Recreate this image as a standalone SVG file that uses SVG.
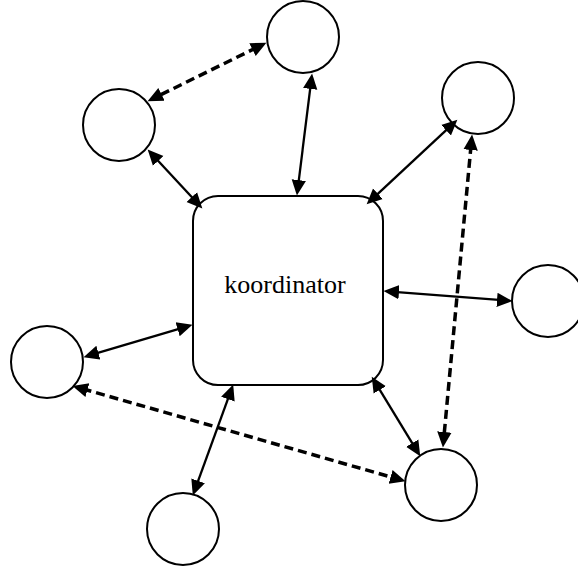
<svg xmlns="http://www.w3.org/2000/svg" width="578" height="574" viewBox="0 0 578 574">
  <style>
    .node { fill: #fff; stroke: #000; stroke-width: 2; }
    .label { font-family: "Liberation Serif", "Times New Roman", serif; font-size: 26px; fill: #000; }
    .link { fill: none; stroke: #000; stroke-width: 2.3; marker-start: url(#head); marker-end: url(#head); }
    .link.dashed { stroke-width: 3.5; stroke-dasharray: 9 5; }
  </style>
  <defs>
    <marker id="head" markerUnits="userSpaceOnUse" markerWidth="17" markerHeight="16" viewBox="0 -8 17 16" refX="5" refY="0" orient="auto-start-reverse">
      <path d="M0,-7.2 L15.5,0 L0,7.2 Z" fill="#000"/>
    </marker>
  </defs>

  <rect width="578" height="574" fill="#fff"/>

  <!-- central coordinator -->
  <g id="koordinator">
    <rect class="node" x="193" y="196" width="190" height="189" rx="25" ry="25"/>
    <text class="label" x="285" y="293" text-anchor="middle">koordinator</text>
  </g>

  <!-- peer nodes -->
  <g id="node-top"><circle class="node" cx="303" cy="37" r="36"/></g>
  <g id="node-upper-left"><circle class="node" cx="119" cy="125" r="36"/></g>
  <g id="node-upper-right"><circle class="node" cx="478" cy="98" r="36"/></g>
  <g id="node-right"><circle class="node" cx="548" cy="301" r="36"/></g>
  <g id="node-left"><circle class="node" cx="47" cy="362" r="36"/></g>
  <g id="node-bottom"><circle class="node" cx="183" cy="529" r="36"/></g>
  <g id="node-bottom-right"><circle class="node" cx="441" cy="485" r="36"/></g>

  <!-- connectors: solid to the coordinator, dashed between peers -->
  <g id="connectors">
    <line class="link" x1="310.8" y1="83.9" x2="298.2" y2="185.1"/>
    <line class="link dashed" x1="257.0" y1="47.4" x2="157.0" y2="96.6"/>
    <line class="link" x1="154.8" y1="157.3" x2="195.2" y2="200.7"/>
    <line class="link" x1="449.7" y1="126.8" x2="374.3" y2="197.2"/>
    <line class="link" x1="394.0" y1="291.8" x2="502.0" y2="300.2"/>
    <line class="link dashed" x1="471.1" y1="145.0" x2="443.9" y2="437.0"/>
    <line class="link" x1="377.2" y1="385.6" x2="414.8" y2="447.4"/>
    <line class="link dashed" x1="82.6" y1="388.8" x2="395.4" y2="478.3"/>
    <line class="link" x1="93.6" y1="354.2" x2="182.4" y2="327.8"/>
    <line class="link" x1="229.6" y1="394.4" x2="196.4" y2="485.6"/>
  </g>
</svg>
